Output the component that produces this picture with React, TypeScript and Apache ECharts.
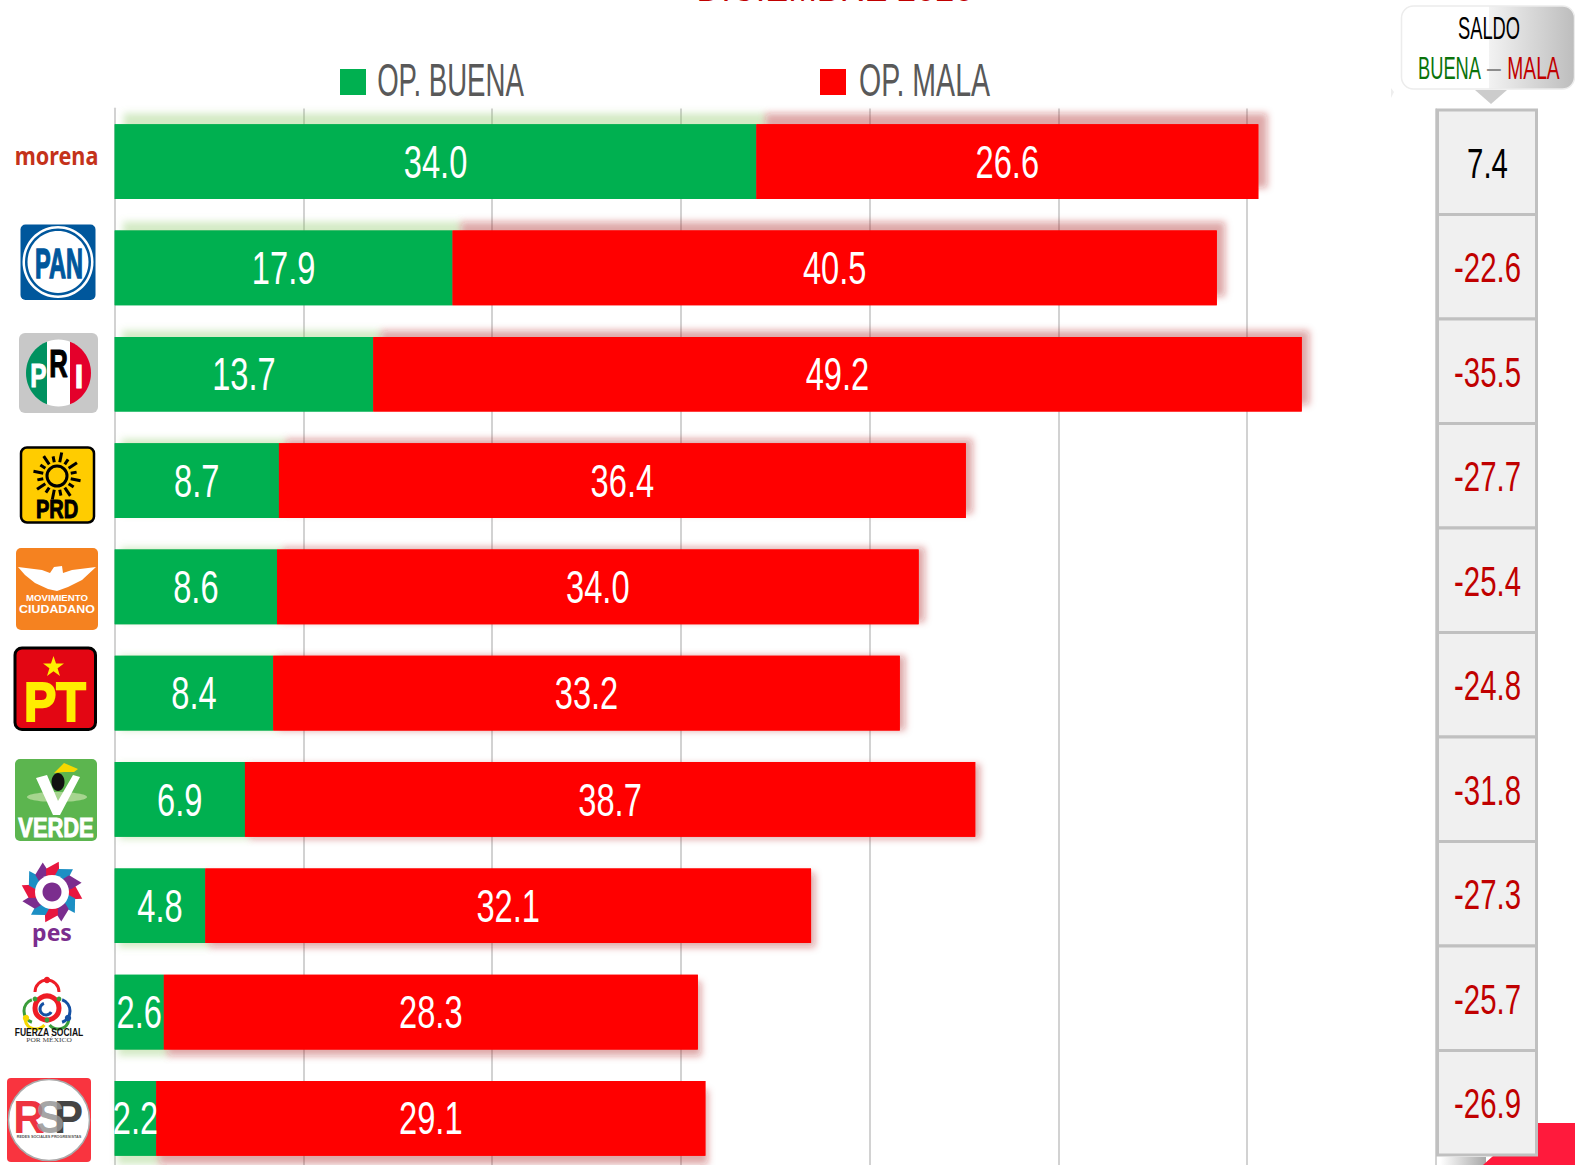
import React, { useEffect, useRef } from "react";
import * as echarts from "echarts";

const parties = ["morena", "PAN", "PRI", "PRD", "Movimiento Ciudadano", "PT", "Verde", "PES", "Fuerza Social por México", "RSP"];
const opBuena = [34.0, 17.9, 13.7, 8.7, 8.6, 8.4, 6.9, 4.8, 2.6, 2.2];
const opMala = [26.6, 40.5, 49.2, 36.4, 34.0, 33.2, 38.7, 32.1, 28.3, 29.1];
const saldo = [7.4, -22.6, -35.5, -27.7, -25.4, -24.8, -31.8, -27.3, -25.7, -26.9];

const NARROW = '"Liberation Sans",Arial,sans-serif';
const SANS = '"Liberation Sans",Arial,sans-serif';
const NOTO = '"Noto Sans",sans-serif';
const GREEN = "#00b050";
const RED = "#ff0000";

function t(text: string, x: number, y: number, fontSize: number, fill: string, o: any = {}) {
  return {
    type: "text", x, y, scaleX: o.scaleX ?? 1, z: o.z ?? 5, silent: true,
    style: {
      text, fill, fontSize, fontFamily: o.family ?? NARROW, fontWeight: o.weight ?? "normal",
      align: o.align ?? "center", verticalAlign: "middle",
      stroke: o.stroke, lineWidth: o.lineWidth ?? 0,
    },
  };
}
const rect = (x: number, y: number, w: number, h: number, r: number, fill: any, o: any = {}) => ({
  type: "rect", z: o.z ?? 3, silent: true, shape: { x, y, width: w, height: h, r },
  style: { fill, stroke: o.stroke, lineWidth: o.lineWidth ?? 0 },
});
const ell = (cx: number, cy: number, rx: number, ry: number, fill: any, o: any = {}) => ({
  type: "ellipse", z: o.z ?? 4, silent: true, shape: { cx, cy, rx, ry },
  style: { fill, stroke: o.stroke, lineWidth: o.lineWidth ?? 0 },
});
const poly = (points: number[][], fill: any, z = 4) => ({ type: "polygon", z, silent: true, shape: { points }, style: { fill } });
const arc = (cx: number, cy: number, r: number, a: number, b: number, stroke: string, lineWidth: number) => ({
  type: "arc", z: 4, silent: true,
  shape: { cx, cy, r, startAngle: (a * Math.PI) / 180, endAngle: (b * Math.PI) / 180 },
  style: { stroke, lineWidth, fill: null },
});
const hGrad = (stops: [number, string][]) => new echarts.graphic.LinearGradient(0, 0, 1, 0, stops.map(([offset, color]) => ({ offset, color })));

function logos(): any[] {
  const out: any[] = [];
  // morena
  out.push(t("morena", 56.5, 155, 25, "#c4321a", { family: NOTO, weight: 700, scaleX: 0.865 }));
  // PAN
  out.push(rect(20.5, 224.5, 75, 75.5, 5, "#00579c"));
  out.push(ell(58, 262, 35.5, 36, "#fff"));
  out.push(ell(58, 262, 33, 33.5, "#00579c"));
  out.push(ell(58, 262, 30.5, 31, "#fff"));
  out.push(t("PAN", 59, 263, 42, "#00579c", { family: SANS, weight: 700, scaleX: 0.56, stroke: "#00579c", lineWidth: 1.4 }));
  // PRI
  out.push(rect(19, 333, 79, 80, 6, "#c8c8c8"));
  out.push(ell(58.5, 373, 32.5, 33.5, hGrad([[0, "#00915f"], [0.33, "#00915f"], [0.33, "#ffffff"], [0.67, "#ffffff"], [0.67, "#e4002b"], [1, "#e4002b"]])));
  out.push(t("P", 38.5, 375, 34, "#fff", { family: SANS, weight: 700, scaleX: 0.72, stroke: "#fff", lineWidth: 1 }));
  out.push(t("R", 58.5, 363.5, 39, "#000", { family: SANS, weight: 700, scaleX: 0.66, stroke: "#000", lineWidth: 1.2 }));
  out.push(t("I", 79, 376, 34, "#fff", { family: SANS, weight: 700, scaleX: 0.9, stroke: "#fff", lineWidth: 1 }));
  // PRD
  out.push(rect(21, 447.5, 73, 75, 6, "#ffcc00", { stroke: "#000", lineWidth: 2.5 }));
  out.push(ell(57, 476, 10, 10, "none", { stroke: "#000", lineWidth: 3 }));
  for (let i = 0; i < 16; i++) {
    const a = (i * Math.PI) / 8 + Math.PI / 16;
    const r2 = i % 2 === 0 ? 24 : 20;
    out.push({
      type: "line", z: 4, silent: true,
      shape: { x1: 57 + Math.cos(a) * 14, y1: 476 + Math.sin(a) * 14, x2: 57 + Math.cos(a) * r2, y2: 476 + Math.sin(a) * r2 },
      style: { stroke: "#000", lineWidth: 3 },
    });
  }
  out.push(t("PRD", 57, 509.5, 25, "#000", { family: SANS, weight: 700, scaleX: 0.8, stroke: "#000", lineWidth: 1 }));
  // Movimiento Ciudadano
  out.push(rect(16, 548, 82, 82, 5, "#f58220"));
  out.push(poly([[18, 567], [42, 570], [50, 573], [54, 567], [62, 566], [63, 573], [72, 570], [96, 567], [82, 580], [68, 587], [57, 591], [48, 589], [35, 583], [25, 575]], "#fff"));
  out.push(t("MOVIMIENTO", 57, 598.5, 8.6, "#fff", { family: SANS, weight: 700, scaleX: 1.12 }));
  out.push(t("CIUDADANO", 57, 608.5, 11, "#fff", { family: SANS, weight: 700, scaleX: 1.13 }));
  // PT
  out.push(rect(15, 648, 80.5, 81.5, 7, "#e30613", { stroke: "#000", lineWidth: 3 }));
  const star: number[][] = [];
  for (let i = 0; i < 10; i++) {
    const r = i % 2 === 0 ? 11 : 4.3;
    const a = -Math.PI / 2 + (i * Math.PI) / 5;
    star.push([53.5 + Math.cos(a) * r, 667 + Math.sin(a) * r]);
  }
  out.push(poly(star, "#ffed00"));
  out.push(t("PT", 55, 701.5, 55, "#ffed00", { family: SANS, weight: 700, scaleX: 0.88, stroke: "#ffed00", lineWidth: 2 }));
  // Verde
  out.push(rect(15, 759, 82, 82, 5, "#5cb54f"));
  out.push(ell(57, 797, 30, 5, "#a6d58f"));
  out.push(poly([[36, 778], [47, 775], [58, 801], [73, 775], [80, 777], [60, 815], [53, 815]], "#fff"));
  out.push(ell(58, 782, 6.5, 9, "#111"));
  out.push(poly([[54, 773], [64, 763], [78, 769], [74, 772], [64, 772]], "#f6d800"));
  out.push(t("VERDE", 56, 828, 27, "#fff", { family: SANS, weight: 700, scaleX: 0.81, stroke: "#fff", lineWidth: 1 }));
  // PES
  const pc = ["#e8173f", "#1c8fc4", "#7b2d8e"];
  for (let i = 0; i < 12; i++) {
    const a = (i * Math.PI) / 6;
    const cx = 52, cy = 892;
    out.push(poly([
      [cx + Math.cos(a - 0.5) * 12, cy + Math.sin(a - 0.5) * 12],
      [cx + Math.cos(a - 0.25) * 24, cy + Math.sin(a - 0.25) * 24],
      [cx + Math.cos(a + 0.22) * 31, cy + Math.sin(a + 0.22) * 31],
      [cx + Math.cos(a + 0.35) * 21, cy + Math.sin(a + 0.35) * 21],
      [cx + Math.cos(a + 0.5) * 12, cy + Math.sin(a + 0.5) * 12],
    ], pc[i % 3]));
  }
  out.push(ell(52, 892, 17, 17, "#fff"));
  out.push(ell(52, 892, 9.5, 9.5, "#7b2d8e"));
  out.push(t("pes", 52, 932, 23, "#7b2d8e", { family: NOTO, weight: 700 }));
  // Fuerza Social
  out.push(arc(47, 992, 12, 180, 360, "#ee1c25", 3));
  out.push(arc(36, 1011, 12, 110, 250, "#3a9d3a", 3));
  out.push(arc(58, 1011, 12, -70, 70, "#1450a3", 3));
  out.push(arc(47, 1008, 12, 0, 360, "#ee1c25", 5));
  out.push(arc(46, 1009, 6, 30, 250, "#1450a3", 3));
  out.push(arc(36, 1018, 11, 40, 170, "#f6d800", 3));
  out.push(arc(58, 1018, 11, 10, 140, "#3a9d3a", 3));
  out.push(ell(47, 980, 3.2, 3.2, "#ee1c25"));
  out.push(ell(35, 999, 2.4, 2.4, "#3a9d3a"));
  out.push(ell(59, 999, 2.4, 2.4, "#3a9d3a"));
  out.push(ell(47, 1020, 2.4, 2.4, "#3a9d3a"));
  out.push(ell(26, 1018, 3.2, 3.2, "#f6d800"));
  out.push(ell(68, 1018, 3.2, 3.2, "#1450a3"));
  out.push(t("FUERZA SOCIAL", 49, 1032, 10.5, "#111", { family: SANS, weight: 700, scaleX: 0.81 }));
  out.push(t("POR MÉXICO", 49, 1039.5, 5.5, "#444", { family: '"Liberation Serif",serif' , scaleX: 1.35 }));
  // RSP
  out.push(rect(7, 1078, 84, 84, 4, "#f9343f"));
  out.push(ell(49, 1120, 40.5, 40.5, "#fff", { stroke: "#aaa", lineWidth: 1.5 }));
  out.push(t("R", 29, 1117, 46, "#ee3340", { family: SANS, weight: 700, scaleX: 0.95 }));
  out.push(t("P", 68.5, 1117, 46, "#444", { family: SANS, weight: 700, scaleX: 0.95 }));
  out.push(t("S", 50, 1117, 46, "rgba(150,150,150,0.85)", { family: SANS, weight: 700, scaleX: 0.95 }));
  out.push(t("REDES SOCIALES PROGRESISTAS", 49, 1137, 3.8, "#555", { family: SANS, weight: 700 }));
  return out;
}

function furniture(): any[] {
  return [
    t("DICIEMBRE 2020", 835, -13, 40, "#c00000", { scaleX: 0.86, z: 5 }),
    // legend
    rect(340, 69, 26, 26, 0, GREEN),
    t("OP. BUENA", 450.5, 80, 46, "#595959", { scaleX: 0.6 }),
    rect(820, 69, 26, 26, 0, RED),
    t("OP. MALA", 924.5, 80, 46, "#595959", { scaleX: 0.62 }),
    // saldo callout
    poly([[1391, 88], [1394, 92], [1391, 98]], "#eeeeee", 1),
    {
      type: "rect", z: 1, silent: true, shape: { x: 1401.5, y: 6, width: 173, height: 83, r: 12 },
      style: {
        fill: hGrad([[0, "#ffffff"], [0.505, "#ffffff"], [0.505, "#f2f2f2"], [1, "#bdbdbd"]]),
        stroke: "#ececec", lineWidth: 1.5,
      },
    },
    poly([[1475, 90], [1507, 90], [1491, 104]], "#cccccc", 1),
    t("SALDO", 1489, 28.5, 31, "#000", { scaleX: 0.59 }),
    t("BUENA", 1449.5, 68, 31, "#0a730a", { scaleX: 0.59 }),
    t("–", 1494, 68, 31, "#8c8c8c", { scaleX: 0.8 }),
    t("MALA", 1533.5, 68, 31, "#c00000", { scaleX: 0.62 }),
    // corner decoration at bottom right
    rect(1440, 1157, 46, 8, 0, hGrad([[0, "#ffffff"], [1, "#a8a8a8"]]), { z: 0 }),
    poly([[1483, 1165], [1530, 1123], [1575, 1123], [1575, 1165]], "#ff1a3c", 0),
  ];
}

const shadowFor = (i: number, color: string) => ({
  shadowColor: color,
  shadowBlur: 7,
  shadowOffsetX: 9 - i * 0.7,
  shadowOffsetY: -11 + i * 2.2,
});

export default function App() {
  const ref = useRef<HTMLDivElement>(null);
  useEffect(() => {
    const chart = echarts.init(ref.current!, undefined, { renderer: "svg" });
    const valueText = (series: "b" | "m") => (params: any, api: any) => {
      const i = params.dataIndex;
      const start = series === "b" ? 0 : opBuena[i];
      const v = series === "b" ? opBuena[i] : opMala[i];
      const p = api.coord([start + v / 2, i]);
      return {
        type: "text", x: p[0], y: p[1], scaleX: 0.71,
        style: { text: v.toFixed(1), fill: "#fff", fontSize: 46, fontFamily: NARROW, align: "center", verticalAlign: "middle" },
      };
    };
    chart.setOption({
      animation: false,
      backgroundColor: "#fff",
      grid: [
        { left: 114.7, top: 108.5, width: 1321, height: 1063, outerBoundsMode: "none", containLabel: false },
        { left: 1437.5, top: 110, width: 99, height: 1045, outerBoundsMode: "none" },
      ],
      xAxis: [
        {
          type: "value", gridIndex: 0, min: 0, max: 70, interval: 10,
          axisLabel: { show: false }, axisTick: { show: false }, axisLine: { show: false },
          splitLine: { show: true, lineStyle: { color: "#d2d2d2", width: 2 } },
        },
        { type: "value", gridIndex: 1, min: 0, max: 1, show: false },
      ],
      yAxis: [
        {
          type: "category", gridIndex: 0, inverse: true, data: parties,
          axisLabel: { show: false }, axisTick: { show: false },
          axisLine: { show: true, lineStyle: { color: "#d2d2d2", width: 2 } },
          splitLine: { show: false },
        },
        { type: "category", gridIndex: 1, inverse: true, data: parties, show: false },
      ],
      series: [
        {
          name: "sombra buena", type: "bar", stack: "sombra", barWidth: 74.7, barGap: "-100%", z: 1,
          data: opBuena.map((v, i) => ({ value: v, itemStyle: { color: GREEN, ...shadowFor(i, "rgba(130,195,90,0.35)") } })),
        },
        {
          name: "sombra mala", type: "bar", stack: "sombra", barWidth: 74.7, barGap: "-100%", z: 1,
          data: opMala.map((v, i) => ({ value: v, itemStyle: { color: RED, ...shadowFor(i, "rgba(170,30,30,0.38)") } })),
        },
        {
          name: "OP. BUENA", type: "bar", stack: "op", barWidth: 74.7, barGap: "-100%", z: 2,
          data: opBuena.map((v) => ({ value: v, itemStyle: { color: GREEN } })),
        },
        {
          name: "OP. MALA", type: "bar", stack: "op", barWidth: 74.7, barGap: "-100%", z: 2,
          data: opMala.map((v) => ({ value: v, itemStyle: { color: RED } })),
        },
        {
          type: "custom", z: 6, clip: false, renderItem: valueText("b"),
          data: opBuena.map((v, i) => [v / 2, i]),
        },
        {
          type: "custom", z: 6, clip: false, renderItem: valueText("m"),
          data: opMala.map((v, i) => [opBuena[i] + v / 2, i]),
        },
        {
          type: "custom", xAxisIndex: 1, yAxisIndex: 1, z: 4, clip: false,
          data: saldo.map((v, i) => [0.5, i]),
          renderItem: (params: any, api: any) => {
            const i = params.dataIndex;
            const p = api.coord([0.5, i]);
            const h = api.size([0, 1])[1];
            const v = saldo[i];
            return {
              type: "group",
              children: [
                {
                  type: "rect", shape: { x: p[0] - 49.5, y: p[1] - h / 2, width: 99, height: h },
                  style: { fill: "#f0f0f0", stroke: "#c0c0c0", lineWidth: 3 },
                },
                {
                  type: "text", x: p[0] + 0.5, y: p[1] + 1, scaleX: 0.7,
                  style: {
                    text: v.toFixed(1), fill: v > 0 ? "#000" : "#c00000", fontSize: 42, fontFamily: NARROW,
                    align: "center", verticalAlign: "middle",
                  },
                },
              ],
            };
          },
        },
      ],
      graphic: { elements: [...furniture(), ...logos()] },
    });
    return () => chart.dispose();
  }, []);
  return <div ref={ref} style={{ position: "absolute", left: 0, top: 0, width: 1575, height: 1165 }} />;
}
